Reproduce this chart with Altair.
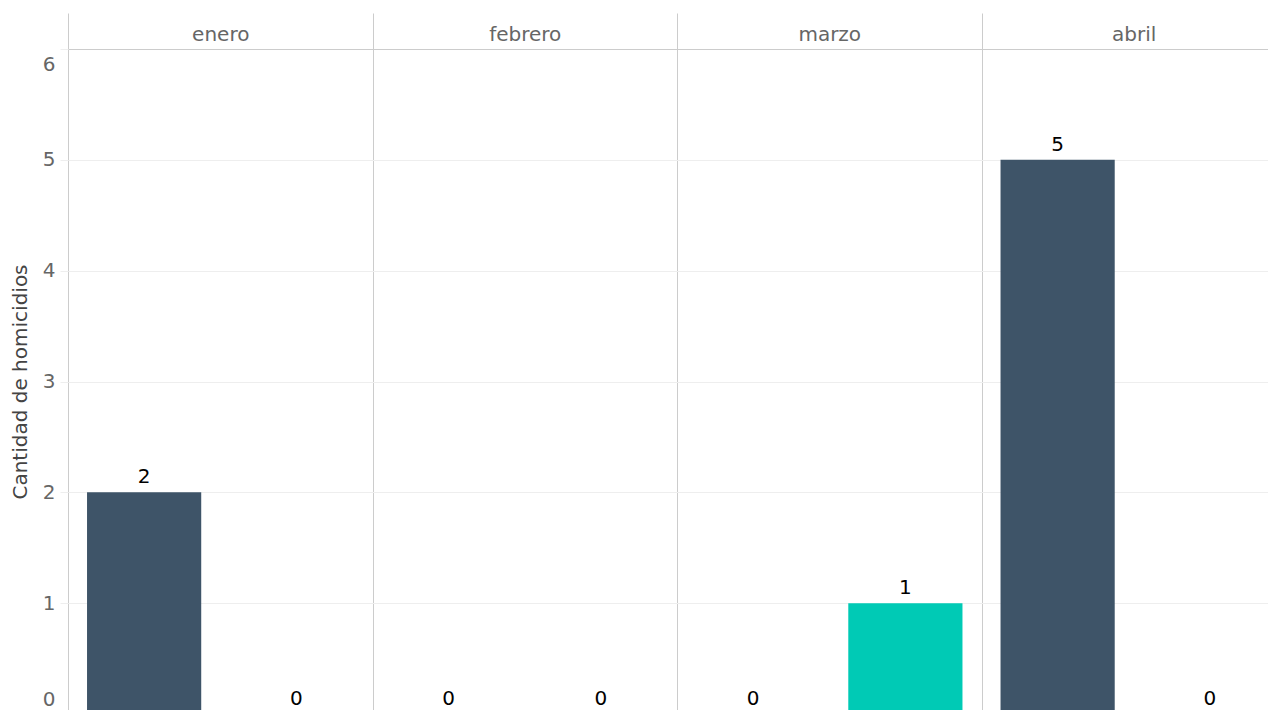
import altair as alt
import pandas as pd

meses = ["enero", "febrero", "marzo", "abril"]
grupos = ["Grupo 1", "Grupo 2"]
valores_grupo1 = [2, 0, 0, 5]
valores_grupo2 = [0, 0, 1, 0]
colores = ["#3e5468", "#00cab5"]
y_ticks = [0, 1, 2, 3, 4, 5, 6]

rows = []
for i, m in enumerate(meses):
    rows.append({"mes": m, "grupo": grupos[0], "valor": valores_grupo1[i]})
    rows.append({"mes": m, "grupo": grupos[1], "valor": valores_grupo2[i]})
df = pd.DataFrame(rows)

FONT = "DejaVu Sans"

x_enc = alt.X(
    "mes:N",
    sort=meses,
    scale=alt.Scale(paddingInner=0, paddingOuter=0),
    axis=alt.Axis(
        orient="top", title=None, tickBand="extent", ticks=True, tickSize=36,
        tickColor="#cccccc", domain=True, domainColor="#cccccc", grid=True,
        gridColor="#cccccc", labelPadding=-31, labelFontSize=20,
        labelColor="#666666", labelFont=FONT, labelAngle=0,
    ),
)
xoff_enc = alt.XOffset(
    "grupo:N", sort=grupos, scale=alt.Scale(paddingInner=0.25, paddingOuter=0.125)
)
y_enc = alt.Y(
    "valor:Q",
    scale=alt.Scale(domain=[0, 6], nice=False),
    axis=alt.Axis(
        values=y_ticks, format="d", grid=True, gridColor="#eeeeee",
        tickColor="#eeeeee", tickSize=8, domain=False, labelFlush=True,
        labelFlushOffset=-5, labelPadding=5, labelFontSize=20,
        labelColor="#666666", labelFont=FONT,
        title="Cantidad de homicidios", titleFontSize=20, titleColor="#444444",
        titleFontWeight="normal", titleFont=FONT, titlePadding=12,
    ),
)

bars = alt.Chart(df).mark_bar().encode(
    x=x_enc,
    xOffset=xoff_enc,
    y=y_enc,
    color=alt.Color("grupo:N", sort=grupos,
                    scale=alt.Scale(domain=grupos, range=colores), legend=None),
)

labels = alt.Chart(df).mark_text(
    baseline="bottom", dy=-5, fontSize=20, font=FONT, color="#000000"
).encode(
    x=alt.X("mes:N", sort=meses),
    xOffset=alt.XOffset("grupo:N", sort=grupos),
    y=alt.Y("valor:Q"),
    text=alt.Text("valor:Q", format="d"),
)

chart = alt.layer(bars, labels).properties(
    width=1218,
    height=665,
    autosize="none",
    padding={"left": 60, "top": 41, "right": -18, "bottom": -4},
).configure_view(stroke=None).configure(background="white")

chart.save("out.html", embed_options={"renderer": "svg", "actions": False})
